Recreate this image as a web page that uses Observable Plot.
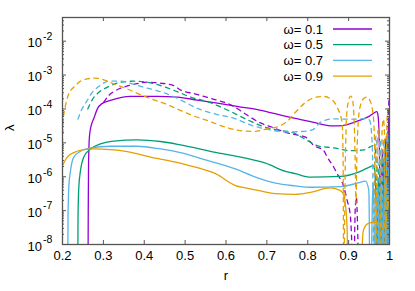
<!DOCTYPE html>
<html><head><meta charset="utf-8">
<script src="https://cdn.jsdelivr.net/npm/d3@7"></script>
<script src="https://cdn.jsdelivr.net/npm/@observablehq/plot@0.6"></script>
<style>body{margin:0;background:#fff}svg{display:block}</style>
</head><body><div id="chart"></div>
<script>
// ---- labels / ticks ----
const omegaLabels = ["ω= 0.1", "ω= 0.5", "ω= 0.7", "ω= 0.9"];
const seriesColors = ["#9400d3", "#009e73", "#56b4e9", "#e69f00"];
const xTicks = [0.2, 0.3, 0.4, 0.5, 0.6, 0.7, 0.8, 0.9, 1.0];
const xTickLabels = ["0.2", "0.3", "0.4", "0.5", "0.6", "0.7", "0.8", "0.9", "1"];
const yExponents = [-8, -7, -6, -5, -4, -3, -2];
const yDomain = [1e-8, 0.05];
const xLabel = "r";
const yLabel = "λ";

// ---- data: r and log10(λ); -9 means the curve falls below the plotted range ----
// ω = 0.1
const r01s = [0.2624,0.2630,0.2636,0.2645,0.2660,0.270,0.2766,0.2856,0.2955,0.3174,0.366,0.432,0.481,0.53,0.579,0.63,0.677,0.72,0.763,0.812,0.861,0.885,0.926,0.950,0.962,0.969,0.972,0.975,0.977,0.979,0.981,0.983,0.985,0.9865,0.988,0.991,0.993,0.9945,0.996,0.998,1.0];
const l01s = [-9,-7,-5.8,-5.2,-4.8,-4.5,-4.28,-3.99,-3.85,-3.75,-3.63,-3.63,-3.65,-3.74,-3.83,-3.93,-4.02,-4.14,-4.26,-4.39,-4.50,-4.49,-4.34,-4.22,-4.12,-4.08,-4.2,-5.0,-6.5,-9,-6.0,-5.2,-6.5,-9,-6.0,-4.9,-6.5,-9,-5.5,-4.4,-4.2];
const r01d = [0.301,0.3133,0.3297,0.3541,0.3786,0.4072,0.4398,0.4723,0.4845,0.5254,0.5662,0.6152,0.6477,0.6802,0.7130,0.7456,0.77,0.7946,0.8148,0.8393,0.8476,0.8637,0.872,0.8882,0.8965,0.9046,0.9127,0.916,0.919,0.922,0.925,0.97,0.975,0.977,0.979,0.984,0.987,0.992,0.995,0.998,1.0];
const l01d = [-3.80,-3.60,-3.46,-3.34,-3.26,-3.21,-3.24,-3.31,-3.41,-3.56,-3.70,-3.90,-4.15,-4.39,-4.54,-4.69,-4.76,-4.83,-5.08,-5.23,-5.42,-5.72,-5.91,-6.3,-6.7,-7.2,-9,-7.0,-6.6,-7.5,-9,-9,-9,-6.0,-9,-5.5,-9,-4.8,-9,-3.9,-3.6];
// ω = 0.5
const r05s = [0.2372,0.2380,0.2390,0.2399,0.2440,0.2521,0.2685,0.2930,0.3255,0.3827,0.4398,0.4887,0.5743,0.6477,0.6966,0.7456,0.77,0.8067,0.8801,0.929,0.9535,0.9601,0.963,0.966,0.968,0.969,0.971,0.973,0.975,0.977,0.980,0.982,0.984,0.987,0.989,0.991,0.994,0.996,0.999,1.0];
const l05s = [-9,-7.2,-6.6,-6.31,-5.82,-5.42,-5.18,-5.03,-4.95,-4.91,-4.96,-5.06,-5.28,-5.45,-5.60,-5.84,-5.91,-6.01,-5.99,-5.84,-5.70,-5.67,-5.75,-6.3,-7.5,-9,-6.6,-6.1,-6.6,-9,-6.3,-6.0,-9,-6.0,-5.7,-9,-5.8,-9,-6.0,-6.0];
const r05d = [0.2619,0.2727,0.2888,0.3133,0.3419,0.3744,0.4072,0.4398,0.4806,0.5090,0.5579,0.6068,0.6558,0.6966,0.7375,0.7620,0.7987,0.8231,0.8637,0.9046,0.9371,0.9616,0.965,0.968,0.970,0.973,0.975,0.977,0.981,0.983,0.985,0.989,0.991,0.993,0.997,1.0];
const l05d = [-4.0,-3.73,-3.51,-3.34,-3.21,-3.18,-3.21,-3.31,-3.49,-3.63,-3.80,-4.05,-4.34,-4.54,-4.64,-4.69,-4.93,-5.08,-5.15,-5.23,-5.21,-5.08,-5.2,-5.8,-9,-6.0,-5.6,-9,-5.6,-5.4,-9,-5.3,-5.2,-9,-5.0,-4.8];
// ω = 0.7
const r07s = [0.2128,0.2135,0.2143,0.2154,0.2196,0.2276,0.2440,0.2685,0.3174,0.3827,0.4398,0.4887,0.5498,0.6232,0.6722,0.7211,0.77,0.8067,0.8801,0.9210,0.9413,0.9494,0.9505,0.9515,0.955,0.958,0.960,0.962,0.964,0.970,0.972,0.974,0.979,0.981,0.983,0.988,0.990,0.992,0.997,1.0];
const l07s = [-9,-7.2,-6.7,-6.31,-5.82,-5.42,-5.25,-5.15,-5.10,-5.10,-5.18,-5.29,-5.50,-5.77,-6.01,-6.19,-6.27,-6.31,-6.29,-6.19,-6.13,-6.4,-7.2,-9,-9,-6.8,-6.2,-6.8,-9,-6.3,-6.6,-9,-6.2,-6.5,-9,-6.0,-6.4,-9,-5.9,-5.8];
const r07d = [0.238,0.2440,0.2604,0.2727,0.2888,0.3133,0.3419,0.3706,0.3989,0.4398,0.48,0.49,0.5335,0.5743,0.6232,0.6641,0.6966,0.7505,0.790,0.814,0.8312,0.8637,0.8882,0.921,0.9455,0.952,0.956,0.959,0.961,0.964,0.967,0.970,0.972,0.976,0.978,0.980,0.985,0.987,0.989,0.994,0.996,0.998,1.0];
const l07d = [-4.3,-4.10,-3.75,-3.51,-3.34,-3.18,-3.18,-3.26,-3.36,-3.49,-3.68,-3.74,-4.0,-4.15,-4.29,-4.49,-4.59,-4.68,-4.66,-4.6,-4.39,-4.29,-4.3,-4.3,-4.28,-4.35,-4.7,-5.6,-9,-5.3,-4.8,-5.3,-9,-5.0,-4.9,-9,-4.9,-5.2,-9,-4.7,-5.0,-9,-4.6];
// ω = 0.9
const r09s = [0.2,0.2115,0.2276,0.2521,0.2766,0.3174,0.3583,0.4153,0.4765,0.5254,0.5743,0.6232,0.6477,0.6722,0.7211,0.77,0.8067,0.8556,0.8801,0.8882,0.8924,0.8965,0.8975,0.932,0.9335,0.936,0.946,0.962,0.975,0.985,0.988,0.993,0.997,1.0];
const l09s = [-5.67,-5.42,-5.29,-5.20,-5.18,-5.20,-5.26,-5.42,-5.57,-5.72,-5.91,-6.26,-6.33,-6.39,-6.50,-6.52,-6.46,-6.33,-6.41,-6.55,-6.85,-7.6,-9,-9,-8.0,-7.59,-7.39,-7.34,-7.39,-7.54,-7.44,-7.19,-6.8,-6.6];
const r09d = [0.200,0.2017,0.2073,0.2154,0.2276,0.2440,0.2604,0.2806,0.3010,0.3255,0.3583,0.3908,0.4234,0.4562,0.4806,0.5131,0.5539,0.5947,0.6354,0.6682,0.7009,0.7334,0.7537,0.7659,0.7903,0.8148,0.8393,0.8556,0.872,0.8843,0.8865,0.8880,0.8920,0.8950,0.900,0.905,0.909,0.913,0.916,0.918,0.920,0.924,0.930,0.938,0.945,0.952,0.958,0.962,0.964,0.966,0.970,0.973,0.976,0.978,0.982,0.985,0.988,0.990,0.994,0.997,1.0];
const l09d = [-5.0,-4.34,-3.90,-3.55,-3.36,-3.18,-3.11,-3.09,-3.14,-3.26,-3.41,-3.58,-3.73,-3.87,-4.0,-4.17,-4.34,-4.52,-4.64,-4.66,-4.59,-4.49,-4.32,-4.15,-3.85,-3.67,-3.63,-3.70,-3.95,-4.44,-5.5,-9,-5.5,-4.2,-3.75,-3.62,-3.7,-4.2,-5.5,-6.8,-5.5,-4.3,-3.85,-3.68,-3.65,-3.75,-4.0,-4.5,-5.5,-9,-5.0,-4.6,-5.2,-9,-4.6,-4.3,-4.8,-9,-4.3,-4.0,-4.0];

const seriesR = [[r01s, r01d], [r05s, r05d], [r07s, r07d], [r09s, r09d]];
const seriesL = [[l01s, l01d], [l05s, l05d], [l07s, l07d], [l09s, l09d]];

// ---- layout ----
const W = 415, H = 291, mL = 62, mR = 26, mT = 17, mB = 47;
const pw = W - mL - mR, ph = H - mT - mB;
const axisColor = "#555";
const font = "'Liberation Sans', Arial, sans-serif";

const yMajor = yExponents.map(e => Math.pow(10, e));
const yMinor = [];
for (const e of yExponents.concat([-1])) for (let k = 2; k <= 9; k++) {
  const v = k * Math.pow(10, e - 1);
  if (v > yDomain[0] && v < yDomain[1] && e - 1 >= -8) yMinor.push(v);
}

const lineMarks = [];
seriesR.forEach((pair, i) => {
  pair.forEach((rs, j) => {
    const data = rs.map((r, k) => ({r, lam: Math.pow(10, seriesL[i][j][k])}));
    lineMarks.push(Plot.line(data, {
      x: "r", y: "lam", stroke: seriesColors[i], strokeWidth: 1.3,
      strokeDasharray: j === 1 ? "4.5,4.5" : null, curve: "monotone-x", clip: true
    }));
  });
});

const chart = Plot.plot({
  width: W, height: H, marginLeft: mL, marginRight: mR, marginTop: mT, marginBottom: mB,
  style: {fontFamily: font, background: "#fff", overflow: "visible"},
  x: {domain: [0.2, 1], axis: null},
  y: {type: "log", domain: yDomain, axis: null},
  marks: [
    ...lineMarks,
    Plot.frame({stroke: axisColor, strokeWidth: 1.3}),
    Plot.tickY(yMajor, {y: d => d, stroke: axisColor, insetRight: pw - 4}),
    Plot.tickY(yMajor, {y: d => d, stroke: axisColor, insetLeft: pw - 4}),
    Plot.tickY(yMinor, {y: d => d, stroke: axisColor, insetRight: pw - 2}),
    Plot.tickY(yMinor, {y: d => d, stroke: axisColor, insetLeft: pw - 2}),
    Plot.tickX(xTicks, {x: d => d, stroke: axisColor, insetTop: ph - 4}),
    Plot.tickX(xTicks, {x: d => d, stroke: axisColor, insetBottom: ph - 4}),
    Plot.text(xTicks, {x: d => d, text: (d, i) => xTickLabels[i], frameAnchor: "bottom", dy: 15, fontSize: 13, fill: "#000"}),
    Plot.text(yMajor, {y: d => d, text: () => "10", frameAnchor: "left", textAnchor: "end", dx: -20.5, dy: 2, fontSize: 13, fill: "#000"}),
    Plot.text(yMajor, {y: d => d, text: (d, i) => String(yExponents[i]), frameAnchor: "left", textAnchor: "start", dx: -19.5, dy: -4.5, fontSize: 10.5, fill: "#000"}),
    Plot.text([xLabel], {frameAnchor: "bottom", dy: 35, fontSize: 13, fill: "#000"}),
    Plot.text([yLabel], {frameAnchor: "left", dx: -53, rotate: -90, fontSize: 13, fill: "#000"})
  ]
});

// legend (top right, inside the frame)
const svg = d3.select(chart);
const lg = svg.append("g").attr("font-family", font).attr("font-size", 13);
omegaLabels.forEach((lab, i) => {
  const y = 29 + i * 15.7;
  lg.append("text").attr("x", 323).attr("y", y).attr("dy", "0.35em")
    .attr("text-anchor", "end").attr("fill", "#000").text(lab);
  lg.append("line").attr("x1", 333).attr("x2", 372).attr("y1", y).attr("y2", y)
    .attr("stroke", seriesColors[i]).attr("stroke-width", 1.3);
});

document.getElementById("chart").appendChild(chart);
</script>
</body></html>
